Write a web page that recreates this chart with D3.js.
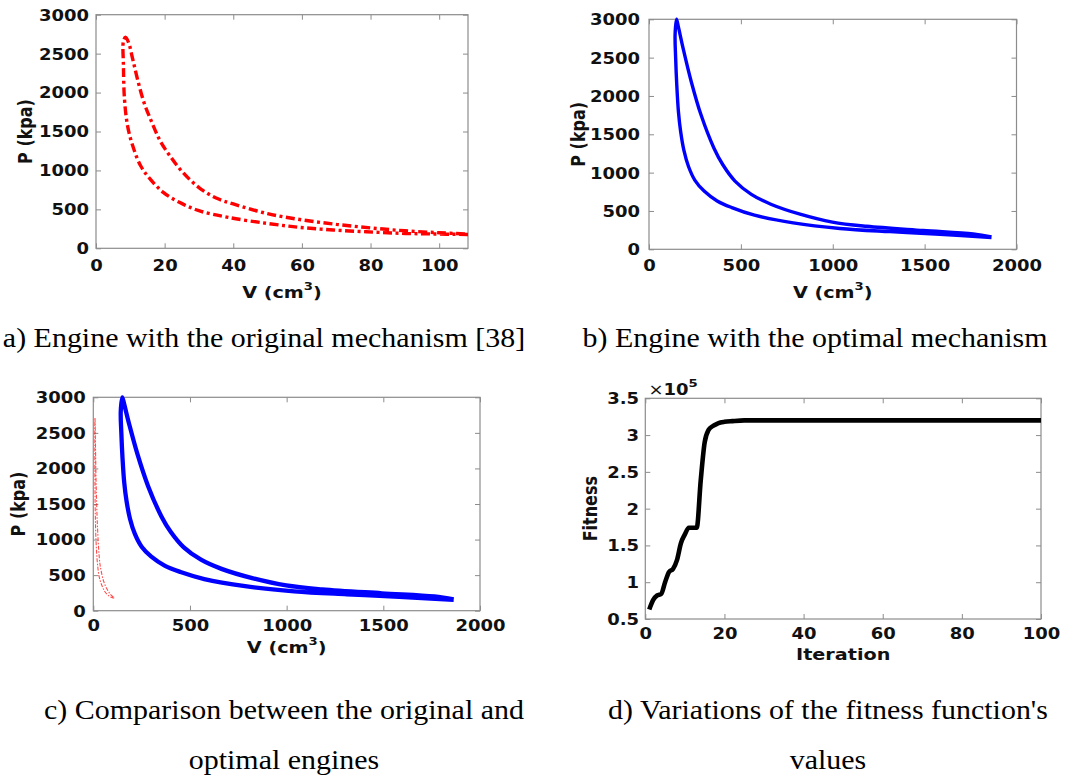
<!DOCTYPE html>
<html>
<head>
<meta charset="utf-8">
<script src="https://cdn.jsdelivr.net/npm/d3@7"></script>
<style>body{margin:0;background:#fff}</style>
</head>
<body>
<svg id="fig" width="1078" height="781"></svg>
<script>
// ---- values ----
const pTicks = [0, 500, 1000, 1500, 2000, 2500, 3000];
const origVTicks = [0, 20, 40, 60, 80, 100];
const optVTicks = [0, 500, 1000, 1500, 2000];
const iterTicks = [0, 20, 40, 60, 80, 100];
const fitTicks = [0.5, 1, 1.5, 2, 2.5, 3, 3.5];

// (a) original mechanism: compression stroke, then expansion stroke
const origCompV = [108.4, 98.3, 88.5, 78.8, 69.1, 59.4, 49.8, 38.5, 30, 24.3, 19.6, 15.8, 13, 10.7, 9.2, 8.3, 8.0, 8.0, 8.6];
const origCompP = [178, 184, 193, 212, 235, 269, 320, 397, 483, 590, 718, 889, 1060, 1316, 1573, 1915, 2342, 2662, 2710];
const origExpV = [8.6, 9.5, 10.7, 12.1, 14, 16.3, 18.7, 21.5, 25.3, 30, 35, 40, 50, 60, 70, 80, 90, 100, 108.4];
const origExpP = [2710, 2640, 2430, 2170, 1870, 1615, 1380, 1190, 975, 780, 645, 570, 445, 365, 308, 262, 225, 200, 182];

// (b) optimal mechanism
const optCompV = [1864, 1583, 1311, 1039, 785, 574, 451, 371, 300, 250, 215, 190, 172, 160, 151, 145, 142, 150];
const optCompP = [152, 196, 230, 272, 345, 445, 544, 631, 760, 900, 1080, 1290, 1540, 1800, 2150, 2500, 2800, 3000];
const optExpV = [150, 160, 186, 230, 283, 353, 401, 468, 557, 663, 822, 998, 1184, 1492, 1764, 1864];
const optExpP = [3000, 2900, 2618, 2186, 1754, 1322, 1106, 890, 717, 588, 458, 355, 300, 245, 200, 160];

// (d) fitness (x 10^5) per iteration
const iterations = [1, 2, 3, 4, 5, 6, 7, 8, 9, 10, 11, 12, 13, 14, 15, 16, 17, 18, 19, 20, 22, 25, 30, 100];
const fitness = [0.63, 0.76, 0.82, 0.84, 1.0, 1.14, 1.18, 1.30, 1.53, 1.65, 1.74, 1.74, 1.74, 2.38, 2.9, 3.07, 3.12, 3.15, 3.17, 3.18, 3.19, 3.2, 3.2, 3.2];

const svg = d3.select("#fig");
const FONT = "'DejaVu Sans', Verdana, sans-serif";
const SX = 1.2;   // the panel images are stretched sideways in the source

const zip = (a, b) => a.map((d, i) => [d, b[i]]);
const origLoop = zip(origCompV, origCompP).concat(zip(origExpV, origExpP).slice(1));
const optLoop = zip(optCompV, optCompP).concat(zip(optExpV, optExpP).slice(1));

function panel(o) {
    var x = d3.scaleLinear().domain(o.xDomain).range([o.left, o.right]);
    var y = d3.scaleLinear().domain(o.yDomain).range([o.bottom, o.top]);
    var g = svg.append("g");

    var axes = [
        [d3.axisBottom(x).tickValues(o.xTicks).tickFormat(d => d), "translate(0," + o.bottom + ")", "b"],
        [d3.axisTop(x).tickValues(o.xTicks).tickFormat(""), "translate(0," + o.top + ")", ""],
        [d3.axisLeft(y).tickValues(o.yTicks).tickFormat(o.yFmt || (d => d)), "translate(" + o.left + ",0)", "l"],
        [d3.axisRight(y).tickValues(o.yTicks).tickFormat(""), "translate(" + o.right + ",0)", ""]
    ];
    axes.forEach(function (a) {
        var ag = g.append("g").attr("transform", a[1])
            .call(a[0].tickSizeInner(-5).tickSizeOuter(0));
        ag.select(".domain").remove();
        ag.selectAll("line").attr("stroke", "#8c8c8c").attr("stroke-width", 1);
        ag.selectAll("text")
            .attr("font-family", FONT).attr("font-weight", "bold")
            .attr("font-size", 15).attr("fill", "#111");
        if (a[2] === "b") {
            ag.selectAll("text").attr("y", o.xLabOff).attr("dy", "0.36em")
                .attr("transform", "scale(" + SX + ",1)");
        } else if (a[2] === "l") {
            ag.selectAll("text").attr("x", -o.yPad / SX).attr("dy", "0.36em")
                .attr("transform", "scale(" + SX + ",1)");
        }
    });

    g.append("rect")
        .attr("x", o.left).attr("y", o.top)
        .attr("width", o.right - o.left).attr("height", o.bottom - o.top)
        .attr("fill", "none").attr("stroke", "#8c8c8c").attr("stroke-width", 1.2);

    var line = d3.line()
        .x(d => x(d[0])).y(d => y(d[1]))
        .curve(o.curve || d3.curveCatmullRom.alpha(0.5));

    o.series.forEach(function (s) {
        g.append("path")
            .datum(s.data)
            .attr("fill", "none")
            .attr("stroke", s.color)
            .attr("stroke-width", s.width)
            .attr("stroke-dasharray", s.dash || null)
            .attr("stroke-opacity", s.opacity || 1)
            .attr("stroke-linejoin", "round")
            .attr("d", line);
    });

    // axis titles
    var cx = (o.left + o.right) / 2;
    var xt = g.append("text")
        .attr("transform", "translate(" + cx + "," + (o.bottom + o.xTitleOff) + ") scale(" + SX + ",1)")
        .attr("text-anchor", "middle").attr("dy", "0.36em")
        .attr("font-family", FONT).attr("font-weight", "bold").attr("font-size", 16).attr("fill", "#111");
    if (o.xTitle === "V") {
        xt.append("tspan").text("V (cm");
        xt.append("tspan").attr("font-size", 11).attr("dy", -8).text("3");
        xt.append("tspan").attr("dy", 8).text(")");
    } else {
        xt.text(o.xTitle);
    }

    g.append("text")
        .attr("transform", "translate(" + (o.left - o.yTitleOff) + "," + ((o.top + o.bottom) / 2) + ") scale(" + SX + ",1) rotate(-90)")
        .attr("text-anchor", "middle").attr("dy", "0.36em")
        .attr("font-family", FONT).attr("font-weight", "bold").attr("font-size", 16).attr("fill", "#111")
        .text(o.yTitle);

    return g;
}

// (a)
panel({
    left: 96, right: 468, top: 14.7, bottom: 248.3,
    xDomain: [0, 108.4], yDomain: [0, 3000], xTicks: origVTicks, yTicks: pTicks,
    xLabOff: 17, yPad: 7, xTitleOff: 44, yTitleOff: 71,
    xTitle: "V", yTitle: "P (kpa)",
    series: [{ data: origLoop, color: "#ff0000", width: 3.4, dash: "9,3.5,3,3.5" }]
});

// (b)
panel({
    left: 649, right: 1016.5, top: 19.3, bottom: 249.3,
    xDomain: [0, 2000], yDomain: [0, 3000], xTicks: optVTicks, yTicks: pTicks,
    xLabOff: 16.5, yPad: 9, xTitleOff: 42.5, yTitleOff: 70.5,
    xTitle: "V", yTitle: "P (kpa)",
    series: [{ data: optLoop, color: "#0000ff", width: 3.4 }]
});

// (c)
panel({
    left: 93.3, right: 480, top: 397.3, bottom: 610.7,
    xDomain: [0, 2000], yDomain: [0, 3000], xTicks: optVTicks, yTicks: pTicks,
    xLabOff: 15, yPad: 7.5, xTitleOff: 37, yTitleOff: 75,
    xTitle: "V", yTitle: "P (kpa)",
    series: [
        { data: origLoop, color: "#ff2020", width: 1.1, dash: "4,1.5,1.5,1.5", opacity: 0.8 },
        { data: optLoop, color: "#0000ff", width: 4.3 }
    ]
});

// (d)
var gd = panel({
    left: 645.3, right: 1041, top: 398.3, bottom: 619,
    xDomain: [0, 100], yDomain: [0.5, 3.5], xTicks: iterTicks, yTicks: fitTicks,
    yFmt: d => String(d),
    xLabOff: 15, yPad: 6.3, xTitleOff: 35, yTitleOff: 55.3,
    xTitle: "Iteration", yTitle: "Fitness",
    curve: d3.curveMonotoneX,
    series: [{ data: zip(iterations, fitness), color: "#000", width: 4.6 }]
});
var mult = gd.append("text")
    .attr("transform", "translate(648.5,395) scale(" + SX + ",1)")
    .attr("font-family", FONT).attr("font-size", 15).attr("fill", "#111");
mult.append("tspan").text("\u00d7");
mult.append("tspan").attr("font-weight", "bold").text("10");
mult.append("tspan").attr("font-weight", "bold").attr("font-size", 11).attr("dy", -8).text("5");

// captions
const captions = [
    { x: 264, y: 347, lines: ["a) Engine with the original mechanism [38]"] },
    { x: 815, y: 347, lines: ["b) Engine with the optimal mechanism"] },
    { x: 284, y: 719, lines: ["c) Comparison between the original and", "optimal engines"] },
    { x: 828, y: 719, lines: ["d) Variations of the fitness function's", "values"] }
];
captions.forEach(function (c) {
    c.lines.forEach(function (t, i) {
        svg.append("text")
            .attr("transform", "translate(" + c.x + "," + (c.y + i * 50) + ") scale(1.07,1)")
            .attr("text-anchor", "middle")
            .attr("font-family", "'Liberation Serif', 'Times New Roman', serif")
            .attr("font-size", 28).attr("fill", "#000")
            .text(t);
    });
});
</script>
</body>
</html>
